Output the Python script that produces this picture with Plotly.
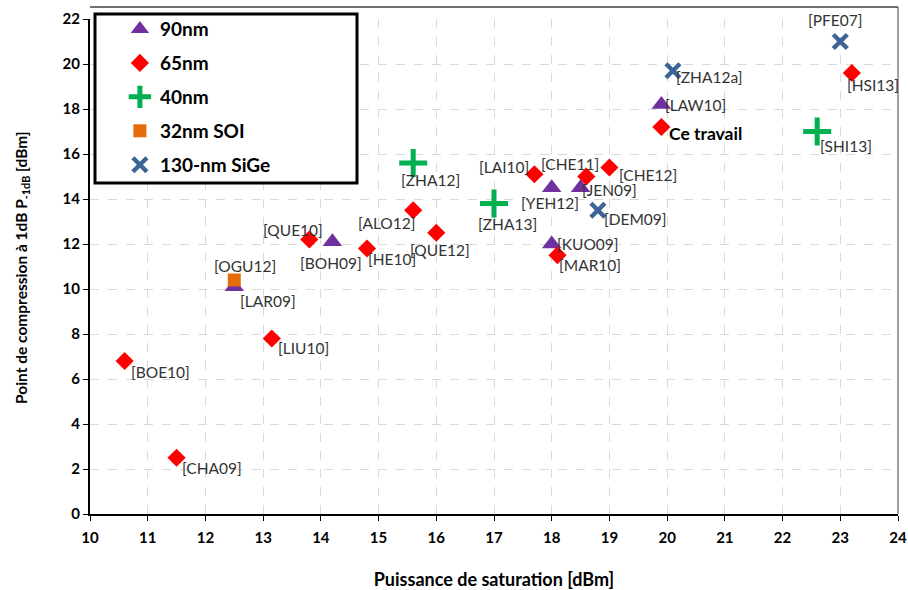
import plotly.graph_objects as go

# 90nm
x_90 = [14.2, 12.5, 18.0, 18.5, 18.0, 19.9]
y_90 = [12.1, 10.1, 14.5, 14.5, 12.0, 18.2]
lab_90 = ["[BOH09]", "[LAR09]", "[YEH12]", "[JEN09]", "[KUO09]", "[LAW10]"]

# 65nm
x_65 = [10.6, 11.5, 13.15, 13.8, 14.8, 15.6, 16.0, 17.7, 18.6, 19.0, 18.1, 19.9, 23.2]
y_65 = [6.8, 2.5, 7.8, 12.2, 11.8, 13.5, 12.5, 15.1, 15.0, 15.4, 11.5, 17.2, 19.6]
lab_65 = ["[BOE10]", "[CHA09]", "[LIU10]", "[QUE10]", "[HE10]", "[ALO12]", "[QUE12]",
          "[LAI10]", "[CHE11]", "[CHE12]", "[MAR10]", "Ce travail", "[HSI13]"]

# 40nm
x_40 = [15.6, 17.0, 22.6]
y_40 = [15.6, 13.8, 17.0]
lab_40 = ["[ZHA12]", "[ZHA13]", "[SHI13]"]

# 32nm SOI
x_32 = [12.5]
y_32 = [10.4]
lab_32 = ["[OGU12]"]

# 130-nm SiGe
x_130 = [18.8, 20.1, 23.0]
y_130 = [13.5, 19.7, 21.0]
lab_130 = ["[DEM09]", "[ZHA12a]", "[PFE07]"]

x_ticks = list(range(10, 25))
y_ticks = list(range(0, 23, 2))

# label offsets in pixels (dx right, dy down)
offsets = {
    "[BOH09]": (-1, 21), "[LAR09]": (34, 14), "[YEH12]": (-2, 15), "[JEN09]": (29, 2),
    "[KUO09]": (36, 0), "[LAW10]": (34, 0), "[BOE10]": (36, 11), "[CHA09]": (35, 10),
    "[LIU10]": (32, 9), "[QUE10]": (-16, -10), "[HE10]": (25, 10), "[ALO12]": (-26, 13),
    "[QUE12]": (4, 17), "[LAI10]": (-30, -7), "[CHE11]": (-16, -13), "[CHE12]": (39, 7),
    "[MAR10]": (33, 10), "Ce travail": (44, 6), "[HSI13]": (21, 12), "[ZHA12]": (17, 17),
    "[ZHA13]": (13, 20), "[SHI13]": (29, 14), "[OGU12]": (11, -14), "[DEM09]": (38, 9),
    "[ZHA12a]": (36, 6), "[PFE07]": (-5, -22),
}

FONT = "Lato, 'Noto Sans', sans-serif"

series = [
    ("90nm", x_90, y_90, lab_90, dict(symbol="triangle-up", size=17, color="#7030A0")),
    ("65nm", x_65, y_65, lab_65, dict(symbol="diamond", size=14, color="#FF0000")),
    ("40nm", x_40, y_40, lab_40, dict(symbol="cross-thin", size=20, color="#00B050",
                                      line=dict(color="#00B050", width=5))),
    ("32nm SOI", x_32, y_32, lab_32, dict(symbol="square", size=13, color="#E46C0A")),
    ("130-nm SiGe", x_130, y_130, lab_130, dict(symbol="x-thin", size=14, color="#3C6496",
                                                line=dict(color="#3C6496", width=4.5))),
]

fig = go.Figure()
annotations = []
for name, xs, ys, labs, mk in series:
    fig.add_trace(go.Scatter(x=xs, y=ys, mode="markers", name=name, marker=mk,
                             legendgroup=name))
    for x, y, t in zip(xs, ys, labs):
        dx, dy = offsets[t]
        bold = t == "Ce travail"
        annotations.append(dict(
            x=x, y=y, xref="x", yref="y", text=f"<b>{t}</b>" if bold else t,
            showarrow=False, xshift=dx, yshift=-dy,
            font=dict(family=FONT, size=17.5 if bold else 15.5,
                      color="#000000" if bold else "#333333")))

# y axis title as a rotated annotation so it can be placed exactly
annotations.append(dict(
    x=-68 / 808, y=246 / 495, xref="paper", yref="paper", textangle=-90,
    text="<b>Point de compression à 1dB P<sub>-1dB</sub> [dBm]</b>",
    showarrow=False, xanchor="center", yanchor="middle",
    font=dict(family=FONT, size=15.5, color="#000000")))

axis_common = dict(
    showgrid=True, gridcolor="#D9D9D9", griddash="dash", gridwidth=1,
    showline=True, linecolor="#000000", linewidth=2,
    ticks="outside", ticklen=5, tickcolor="#000000", tickwidth=1,
    zeroline=False, automargin=False,
    tickfont=dict(family=FONT, size=15, color="#000000", weight="bold"),
)

fig.update_layout(
    width=908, height=590,
    margin=dict(l=90, r=10, t=19, b=76),
    paper_bgcolor="white", plot_bgcolor="white",
    font=dict(family=FONT),
    annotations=annotations,
    legend=dict(x=0.037, y=1.018, xanchor="left", yanchor="top",
                bgcolor="rgba(0,0,0,0)", borderwidth=0,
                tracegroupgap=6.25,
                font=dict(family=FONT, size=19, color="#000000", weight="bold")),
    xaxis=dict(range=[10, 24], tickvals=x_ticks, ticklabelstandoff=4,
               title=dict(text="<b>Puissance de saturation [dBm]</b>", standoff=30,
                          font=dict(family=FONT, size=18, color="#000000")),
               **axis_common),
    yaxis=dict(range=[0, 22], tickvals=y_ticks,
               **axis_common),
    shapes=[
        dict(type="rect", xref="paper", yref="paper",
             x0=5 / 808, x1=267 / 808, y0=331 / 495, y1=500 / 495,
             line=dict(color="#000000", width=3), fillcolor="white", layer="above"),
        dict(type="line", xref="paper", yref="paper", x0=1, x1=1, y0=0, y1=507 / 495,
             line=dict(color="#404040", width=1)),
        dict(type="line", xref="paper", yref="paper", x0=0, x1=1, y0=507 / 495, y1=507 / 495,
             line=dict(color="#404040", width=1.5)),
    ],
)

fig.write_html("out.html", config={"displayModeBar": False},
               post_script="document.body.style.margin='0';")
